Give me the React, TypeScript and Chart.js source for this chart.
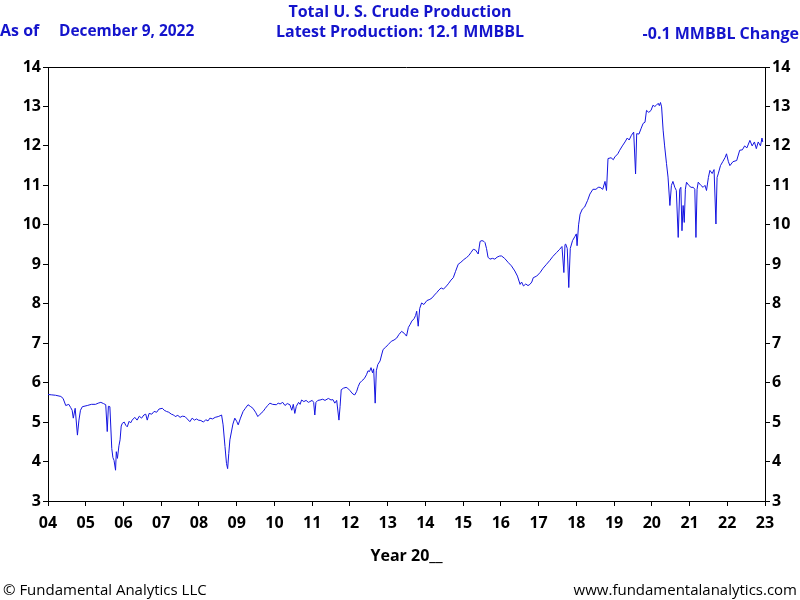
import React, { useEffect, useRef } from "react";
import { Chart, registerables } from "chart.js";

Chart.register(...registerables);

// Decimal year of each reading
const years: number[] = [
  2004.00, 2004.10, 2004.20, 2004.34, 2004.40, 2004.47, 2004.55, 2004.60, 2004.64, 2004.67,
  2004.72, 2004.78, 2004.82, 2004.86, 2004.91, 2005.04, 2005.15, 2005.26, 2005.33, 2005.40,
  2005.47, 2005.53, 2005.57, 2005.60, 2005.64, 2005.69, 2005.72, 2005.75, 2005.79, 2005.81,
  2005.84, 2005.88, 2005.91, 2005.94, 2005.97, 2006.02, 2006.06, 2006.10, 2006.15, 2006.19,
  2006.23, 2006.30, 2006.36, 2006.42, 2006.48, 2006.54, 2006.59, 2006.63, 2006.68, 2006.75,
  2006.81, 2006.88, 2006.94, 2007.03, 2007.08, 2007.14, 2007.20, 2007.27, 2007.33, 2007.37,
  2007.44, 2007.50, 2007.56, 2007.63, 2007.69, 2007.76, 2007.82, 2007.88, 2007.94, 2007.98,
  2008.05, 2008.12, 2008.18, 2008.24, 2008.29, 2008.36, 2008.43, 2008.51, 2008.56, 2008.60,
  2008.64, 2008.69, 2008.73, 2008.76, 2008.79, 2008.82, 2008.86, 2008.90, 2008.95, 2009.00,
  2009.04, 2009.10, 2009.17, 2009.23, 2009.30, 2009.36, 2009.43, 2009.50, 2009.56, 2009.62,
  2009.70, 2009.76, 2009.82, 2009.88, 2009.95, 2010.05, 2010.10, 2010.15, 2010.22, 2010.28,
  2010.34, 2010.41, 2010.46, 2010.50, 2010.54, 2010.58, 2010.64, 2010.68, 2010.72, 2010.78,
  2010.84, 2010.90, 2010.94, 2011.00, 2011.04, 2011.07, 2011.10, 2011.15, 2011.21, 2011.28,
  2011.34, 2011.43, 2011.50, 2011.55, 2011.60, 2011.65, 2011.71, 2011.74, 2011.77, 2011.83,
  2011.90, 2011.94, 2012.00, 2012.08, 2012.13, 2012.18, 2012.22, 2012.26, 2012.32, 2012.38,
  2012.44, 2012.48, 2012.52, 2012.56, 2012.60, 2012.63, 2012.67, 2012.70, 2012.74, 2012.80,
  2012.84, 2012.88, 2012.95, 2013.02, 2013.10, 2013.17, 2013.24, 2013.30, 2013.37, 2013.44,
  2013.50, 2013.55, 2013.60, 2013.64, 2013.70, 2013.74, 2013.77, 2013.81, 2013.85, 2013.90,
  2013.96, 2014.04, 2014.12, 2014.18, 2014.24, 2014.30, 2014.36, 2014.42, 2014.48, 2014.56,
  2014.62, 2014.68, 2014.74, 2014.80, 2014.87, 2014.94, 2015.02, 2015.09, 2015.15, 2015.21,
  2015.27, 2015.33, 2015.40, 2015.45, 2015.50, 2015.55, 2015.58, 2015.62, 2015.66, 2015.71,
  2015.78, 2015.84, 2015.90, 2015.97, 2016.02, 2016.10, 2016.20, 2016.28, 2016.37, 2016.44,
  2016.51, 2016.55, 2016.60, 2016.66, 2016.72, 2016.77, 2016.82, 2016.86, 2016.95, 2017.04,
  2017.12, 2017.21, 2017.30, 2017.38, 2017.48, 2017.56, 2017.62, 2017.67, 2017.70, 2017.72,
  2017.76, 2017.80, 2017.84, 2017.90, 2017.96, 2018.00, 2018.02, 2018.06, 2018.10, 2018.16,
  2018.22, 2018.30, 2018.36, 2018.44, 2018.52, 2018.58, 2018.63, 2018.70, 2018.76, 2018.80,
  2018.84, 2018.92, 2018.98, 2019.02, 2019.10, 2019.15, 2019.22, 2019.29, 2019.35, 2019.40,
  2019.46, 2019.52, 2019.57, 2019.60, 2019.66, 2019.72, 2019.77, 2019.82, 2019.86, 2019.92,
  2019.98, 2020.03, 2020.08, 2020.12, 2020.17, 2020.20, 2020.23, 2020.26, 2020.30, 2020.34,
  2020.39, 2020.43, 2020.48, 2020.52, 2020.56, 2020.61, 2020.65, 2020.70, 2020.74, 2020.77,
  2020.80, 2020.83, 2020.86, 2020.89, 2020.92, 2020.98, 2021.04, 2021.10, 2021.14, 2021.17,
  2021.20, 2021.23, 2021.30, 2021.36, 2021.41, 2021.45, 2021.50, 2021.54, 2021.60, 2021.65,
  2021.70, 2021.73, 2021.76, 2021.82, 2021.88, 2021.94, 2021.98, 2022.03, 2022.07, 2022.15,
  2022.25, 2022.33, 2022.40, 2022.46, 2022.52, 2022.60, 2022.66, 2022.72, 2022.77, 2022.82,
  2022.88, 2022.92, 2022.94,
];

// Weekly crude production, million barrels per day
const production: number[] = [
  5.70, 5.69, 5.68, 5.65, 5.60, 5.42, 5.45, 5.37, 5.30, 5.10,
  5.35, 4.67, 5.05, 5.30, 5.39, 5.42, 5.45, 5.45, 5.48, 5.50,
  5.47, 5.44, 4.76, 5.40, 5.39, 4.33, 4.10, 4.03, 3.78, 4.25,
  4.08, 4.40, 4.55, 4.90, 4.97, 5.00, 4.92, 4.88, 5.02, 4.98,
  5.05, 5.12, 5.05, 5.15, 5.10, 5.18, 5.20, 5.05, 5.22, 5.20,
  5.27, 5.25, 5.33, 5.35, 5.30, 5.27, 5.25, 5.20, 5.18, 5.14,
  5.17, 5.12, 5.15, 5.14, 5.08, 5.01, 5.10, 5.05, 5.08, 5.05,
  5.04, 5.00, 5.06, 5.03, 5.10, 5.08, 5.12, 5.14, 5.16, 5.18,
  4.93, 4.38, 3.95, 3.82, 4.20, 4.55, 4.75, 4.95, 5.10, 5.02,
  4.93, 5.10, 5.27, 5.35, 5.44, 5.40, 5.35, 5.25, 5.14, 5.20,
  5.27, 5.35, 5.42, 5.48, 5.45, 5.44, 5.48, 5.46, 5.50, 5.42,
  5.47, 5.44, 5.30, 5.45, 5.22, 5.40, 5.50, 5.45, 5.56, 5.52,
  5.55, 5.50, 5.52, 5.55, 5.50, 5.18, 5.50, 5.55, 5.56, 5.58,
  5.55, 5.60, 5.56, 5.57, 5.48, 5.55, 5.05, 5.40, 5.82, 5.86,
  5.88, 5.86, 5.80, 5.71, 5.69, 5.78, 5.90, 5.99, 6.05, 6.10,
  6.20, 6.30, 6.28, 6.38, 6.25, 6.35, 5.48, 6.30, 6.46, 6.55,
  6.70, 6.84, 6.90, 6.97, 7.05, 7.08, 7.13, 7.22, 7.30, 7.25,
  7.18, 7.40, 7.48, 7.56, 7.62, 7.70, 7.81, 7.43, 7.88, 8.02,
  7.98, 8.08, 8.11, 8.15, 8.22, 8.28, 8.35, 8.40, 8.37, 8.45,
  8.52, 8.60, 8.66, 8.82, 9.00, 9.05, 9.12, 9.17, 9.22, 9.30,
  9.38, 9.36, 9.26, 9.58, 9.60, 9.58, 9.55, 9.40, 9.18, 9.13,
  9.15, 9.13, 9.18, 9.21, 9.21, 9.15, 9.04, 8.96, 8.83, 8.70,
  8.49, 8.55, 8.45, 8.50, 8.46, 8.49, 8.55, 8.66, 8.70, 8.79,
  8.90, 9.00, 9.10, 9.20, 9.30, 9.38, 9.45, 8.79, 9.50, 9.51,
  9.40, 8.41, 9.40, 9.60, 9.70, 9.77, 9.47, 10.00, 10.27, 10.40,
  10.45, 10.62, 10.78, 10.90, 10.90, 10.95, 10.95, 10.90, 11.10, 10.87,
  11.68, 11.70, 11.65, 11.72, 11.80, 11.89, 12.00, 12.10, 12.20, 12.15,
  12.27, 12.35, 11.29, 12.31, 12.30, 12.45, 12.57, 12.60, 12.90, 12.85,
  12.90, 13.03, 13.00, 13.03, 13.08, 13.02, 13.10, 12.99, 12.40, 12.00,
  11.55, 11.21, 10.49, 11.00, 11.10, 10.95, 10.87, 9.68, 10.90, 10.95,
  9.85, 10.49, 10.06, 10.90, 11.08, 11.00, 10.95, 10.95, 10.90, 9.68,
  10.90, 11.08, 11.00, 10.95, 11.00, 10.87, 11.20, 11.38, 11.30, 11.40,
  10.02, 11.20, 11.29, 11.50, 11.60, 11.70, 11.80, 11.60, 11.50, 11.60,
  11.63, 11.89, 11.90, 12.00, 11.95, 12.14, 12.00, 12.10, 11.93, 12.10,
  12.00, 12.20, 12.10,
];

const yearTickLabels: string[] = [
  "04", "05", "06", "07", "08", "09", "10", "11", "12", "13",
  "14", "15", "16", "17", "18", "19", "20", "21", "22", "23",
];

const titleLine1 = "Total U. S. Crude Production";
const titleLine2 = "Latest Production: 12.1 MMBBL";
const asOfLabel = "As of";
const asOfDate = "December 9, 2022";
const changeLabel = "-0.1 MMBBL Change";
const xAxisTitle = "Year 20__";
const footerLeft = "© Fundamental Analytics LLC";
const footerRight = "www.fundamentalanalytics.com";

const BLUE = "#1414CC";
const FONT = "'Open Sans', 'Noto Sans', sans-serif";

const textPlugin = {
  id: "textPlugin",
  afterDraw(chart: any) {
    const ctx = chart.ctx as CanvasRenderingContext2D;
    const area = chart.chartArea;
    ctx.save();
    // frame top line
    ctx.strokeStyle = "#000";
    ctx.lineWidth = 1;
    ctx.beginPath();
    ctx.moveTo(area.left, area.top + 0.5);
    ctx.lineTo(area.right, area.top + 0.5);
    ctx.stroke();

    ctx.fillStyle = BLUE;
    ctx.font = `bold 16px ${FONT}`;
    ctx.textBaseline = "alphabetic";
    ctx.textAlign = "center";
    ctx.fillText(titleLine1, 400, 17);
    ctx.fillText(titleLine2, 400, 37);
    ctx.textAlign = "left";
    ctx.fillText(asOfLabel, 0, 36);
    ctx.save();
    ctx.translate(59, 36);
    ctx.scale(0.965, 1);
    ctx.fillText(asOfDate, 0, 0);
    ctx.restore();
    ctx.textAlign = "right";
    ctx.fillText(changeLabel, 799, 39);

    ctx.fillStyle = "#000";
    ctx.font = `bold 16px ${FONT}`;
    ctx.textAlign = "center";
    ctx.fillText(xAxisTitle, (area.left + area.right) / 2, 561);

    ctx.font = `15px ${FONT}`;
    ctx.textAlign = "left";
    ctx.fillText(footerLeft, 3, 595);
    ctx.textAlign = "right";
    ctx.fillText(footerRight, 797, 595);
    ctx.restore();
  },
};

export default function App() {
  const ref = useRef<HTMLCanvasElement | null>(null);
  useEffect(() => {
    if (!ref.current) return;
    const points = years.map((x, i) => ({ x, y: production[i] }));
    const tickFont = { family: FONT, size: 16, weight: "bold" as const };
    const yCommon = {
      type: "linear" as const,
      min: 3,
      max: 14,
      ticks: { stepSize: 1, color: "#000", font: tickFont, padding: 2 },
      grid: { drawOnChartArea: false, drawTicks: true, tickLength: 5, color: "#000" },
      border: { display: true, color: "#000", width: 1 },
    };
    const chart = new Chart(ref.current, {
      type: "line",
      data: {
        datasets: [
          {
            data: points,
            borderColor: "#1414E0",
            borderWidth: 1,
            pointRadius: 0,
            tension: 0,
            fill: false,
          },
        ],
      },
      options: {
        animation: false,
        responsive: false,
        devicePixelRatio: 1,
        parsing: false as any,
        layout: { padding: { top: 67, left: 0, right: 0, bottom: 0 } },
        plugins: { legend: { display: false }, tooltip: { enabled: false }, title: { display: false } },
        scales: {
          x: {
            type: "linear",
            position: "bottom",
            min: 2004,
            max: 2023,
            ticks: {
              stepSize: 1,
              color: "#000",
              font: tickFont,
              padding: 8,
              maxRotation: 0,
              autoSkip: false,
              callback: (v: any) => yearTickLabels[Math.round(Number(v)) - 2004] ?? "",
            },
            grid: { drawOnChartArea: false, drawTicks: true, tickLength: 5, color: "#000" },
            border: { display: true, color: "#000", width: 1 },
            afterFit: (s: any) => {
              s.height = 99;
            },
          },
          y: {
            ...yCommon,
            position: "left",
            afterFit: (s: any) => {
              s.width = 48;
            },
          },
          y2: {
            ...yCommon,
            position: "right",
            afterFit: (s: any) => {
              s.width = 35;
            },
          },
        },
      },
      plugins: [textPlugin],
    });
    return () => chart.destroy();
  }, []);
  return (
    <div style={{ position: "absolute", left: 0, top: 0, width: 800, height: 600, background: "#fff" }}>
      <canvas ref={ref} width={800} height={600} style={{ width: 800, height: 600 }} />
    </div>
  );
}
